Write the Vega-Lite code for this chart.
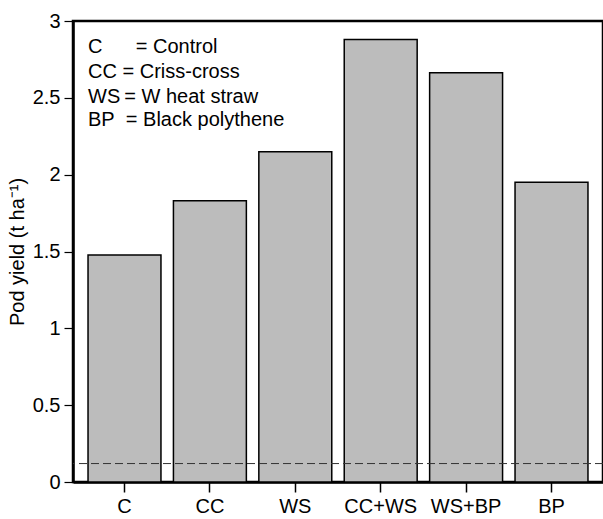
{
  "$schema": "https://vega.github.io/schema/vega-lite/v6.json",
  "width": 530,
  "height": 461,
  "autosize": "none",
  "padding": {"left": 73, "top": 21, "right": 0, "bottom": 37},
  "config": {
    "font": "Liberation Sans",
    "view": {"stroke": "black", "strokeWidth": 2.5},
    "axis": {"grid": false, "domainColor": "black", "tickColor": "black", "labelColor": "black", "titleColor": "black", "labelFont": "Liberation Sans", "titleFont": "Liberation Sans"}
  },
  "layer": [
    {
      "data": {"values": [
        {"treatment": "C", "yield": 1.477},
        {"treatment": "CC", "yield": 1.83},
        {"treatment": "WS", "yield": 2.149},
        {"treatment": "CC+WS", "yield": 2.88},
        {"treatment": "WS+BP", "yield": 2.663},
        {"treatment": "BP", "yield": 1.95}
      ]},
      "mark": {"type": "bar", "fill": "#bcbcbc", "stroke": "black", "strokeWidth": 1.5},
      "encoding": {
        "x": {"field": "treatment", "type": "nominal",
          "scale": {"domain": ["C", "CC", "WS", "CC+WS", "WS+BP", "BP"], "paddingInner": 0.146, "paddingOuter": 0.176},
          "axis": {"title": null, "labelAngle": 0, "labelFontSize": 20, "labelPadding": 4, "tickSize": 10, "tickWidth": 1.5, "domainWidth": 2.5}},
        "y": {"field": "yield", "type": "quantitative",
          "scale": {"domain": [0, 3], "nice": false},
          "axis": {"title": "Pod yield (t ha⁻¹)", "values": [0, 0.5, 1, 1.5, 2, 2.5, 3], "format": "~g", "labelFontSize": 20, "titleFontSize": 20, "titleFontWeight": "normal", "tickSize": 9, "tickWidth": 1.2, "labelPadding": 4, "titlePadding": 5, "domainWidth": 2.5}}
      }
    },
    {
      "data": {"values": [{"baseline": 0.12}]},
      "mark": {"type": "rule", "stroke": "#333333", "strokeWidth": 1, "strokeDash": [8, 4]},
      "encoding": {"y": {"field": "baseline", "type": "quantitative"}}
    },
    {
      "data": {"values": [
        {"anchor": "C", "label": "C\u00a0\u00a0\u00a0\u00a0\u00a0\u00a0= Control", "ypos": 2.83},
        {"anchor": "C", "label": "CC\u00a0= Criss-cross", "ypos": 2.668},
        {"anchor": "C", "label": "WS\u2009= W heat straw", "ypos": 2.505},
        {"anchor": "C", "label": "BP\u00a0 = Black polythene", "ypos": 2.355}
      ]},
      "mark": {"type": "text", "align": "left", "baseline": "middle", "fontSize": 20, "color": "black"},
      "encoding": {
        "x": {"field": "anchor", "type": "nominal", "bandPosition": 0},
        "y": {"field": "ypos", "type": "quantitative"},
        "text": {"field": "label"}
      }
    }
  ]
}
